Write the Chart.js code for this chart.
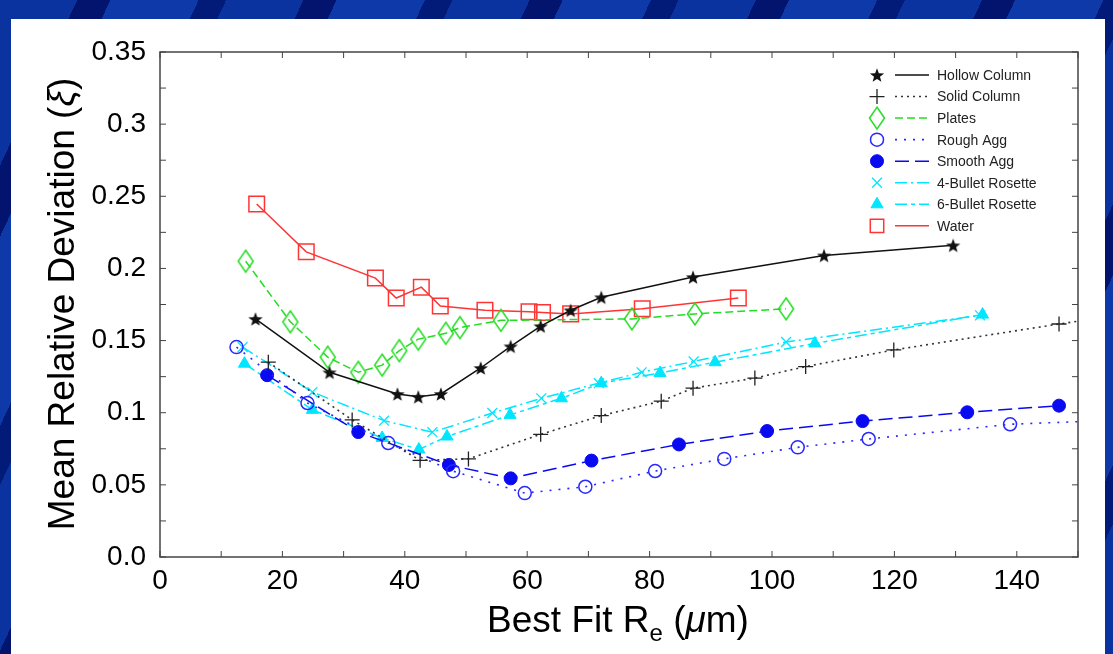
<!DOCTYPE html>
<html>
<head>
<meta charset="utf-8">
<script src="https://cdn.jsdelivr.net/npm/chart.js@4/dist/chart.umd.min.js"></script>
<style>
  html, body { margin:0; padding:0; }
  body {
    width:1113px; height:654px; overflow:hidden; position:relative;
    background: repeating-linear-gradient(115deg,
      #0b33a0 0px, #0b33a0 70px, #03146e 70px, #03146e 100px,
      #0d3aa8 100px, #0d3aa8 180px, #021a78 180px, #021a78 205px);
  }
  #panel { position:absolute; left:11px; top:19px; width:1094px; height:635px; background:#ffffff; }
  #c { position:absolute; left:0; top:0; }
</style>
</head>
<body>
<div id="panel"></div>
<canvas id="c" width="1113" height="654"></canvas>
<script>
// ---------- data ----------
const xTickValues = [0, 20, 40, 60, 80, 100, 120, 140];
const yTickValues = [0, 0.05, 0.1, 0.15, 0.2, 0.25, 0.3, 0.35];
const yTickLabels = ['0.0', '0.05', '0.1', '0.15', '0.2', '0.25', '0.3', '0.35'];

const seriesNames = ['Hollow Column', 'Solid Column', 'Plates', 'Rough Agg', 'Smooth Agg',
                     '4-Bullet Rosette', '6-Bullet Rosette', 'Water'];

const hollowX = [15.6, 27.7, 38.8, 42.2, 45.9, 52.4, 57.3, 62.2, 67.1, 72.1, 87.1, 108.5, 129.6];
const hollowY = [0.165, 0.128, 0.113, 0.111, 0.113, 0.131, 0.146, 0.160, 0.171, 0.180, 0.194, 0.209, 0.216];

const solidX = [17.7, 31.4, 42.5, 50.4, 62.2, 72.1, 81.9, 87.1, 97.2, 105.5, 119.9, 146.9, 160];
const solidY = [0.135, 0.095, 0.067, 0.068, 0.085, 0.098, 0.108, 0.117, 0.124, 0.132, 0.1435, 0.1615, 0.1695];

const platesX = [14.0, 21.3, 27.4, 32.4, 36.3, 39.1, 42.2, 46.7, 49.0, 55.7, 77.1, 87.4, 102.3];
const platesY = [0.205, 0.163, 0.1385, 0.128, 0.133, 0.143, 0.151, 0.155, 0.159, 0.164, 0.165, 0.1685, 0.172];

const roughX = [12.5, 24.1, 37.3, 47.9, 59.6, 69.5, 80.9, 92.2, 104.2, 115.8, 138.9, 165];
const roughY = [0.1455, 0.1067, 0.079, 0.0595, 0.0443, 0.0487, 0.0596, 0.068, 0.076, 0.0818, 0.092, 0.0962];

const smoothX = [17.5, 32.4, 47.2, 57.3, 70.5, 84.8, 99.2, 114.8, 131.9, 146.9];
const smoothY = [0.126, 0.0866, 0.0638, 0.0545, 0.0668, 0.078, 0.0873, 0.0942, 0.1003, 0.1049];

const bullet4X = [13.5, 24.9, 36.6, 44.5, 54.3, 62.3, 71.7, 78.7, 87.2, 102.3, 134.0];
const bullet4Y = [0.1455, 0.1143, 0.0945, 0.0865, 0.0998, 0.110, 0.1205, 0.128, 0.1355, 0.149, 0.1675];

const bullet6X = [13.8, 24.9, 36.3, 42.3, 46.9, 57.2, 65.6, 72.1, 81.7, 90.7, 107.0, 134.4];
const bullet6Y = [0.134, 0.102, 0.0825, 0.0745, 0.0835, 0.0985, 0.110, 0.1205, 0.1275, 0.135, 0.148, 0.168];

const waterX = [15.8, 23.9, 35.2, 38.6, 42.7, 45.8, 53.1, 60.3, 62.5, 67.1, 78.8, 94.5];
const waterY = [0.2446, 0.2115, 0.1933, 0.1795, 0.187, 0.174, 0.171, 0.170, 0.1695, 0.1685, 0.172, 0.1795];

// ---------- marker images ----------
function starImage(color) {
  const c = document.createElement('canvas'); c.width = 18; c.height = 18;
  const g = c.getContext('2d'); g.fillStyle = color; g.beginPath();
  for (let i = 0; i < 10; i++) {
    const r = i % 2 === 0 ? 7.5 : 3.1;
    const a = -Math.PI / 2 + i * Math.PI / 5;
    const px = 9 + r * Math.cos(a), py = 9.8 + r * Math.sin(a);
    if (i === 0) g.moveTo(px, py); else g.lineTo(px, py);
  }
  g.closePath(); g.fill(); return c;
}
function diamondImage(color) {
  const c = document.createElement('canvas'); c.width = 20; c.height = 26;
  const g = c.getContext('2d'); g.strokeStyle = color; g.lineWidth = 1.5; g.beginPath();
  g.moveTo(10, 2); g.lineTo(17.5, 13); g.lineTo(10, 24); g.lineTo(2.5, 13); g.closePath(); g.stroke();
  return c;
}

const pts = (xs, ys) => xs.map((x, i) => ({ x: x, y: ys[i] }));

const BLACK = '#111111', GREEN = '#22dd22', BLUE1 = '#2828ff', BLUE2 = '#0a0af0', CYAN = '#00e6ff', RED = '#ff3535';

const datasets = [
  { label: seriesNames[0], data: pts(hollowX, hollowY), borderColor: BLACK, borderWidth: 1.5, borderDash: [],
    pointStyle: starImage(BLACK), pointRadius: 8, pointBackgroundColor: BLACK, pointBorderColor: BLACK, pointBorderWidth: 1 },
  { label: seriesNames[1], data: pts(solidX, solidY), borderColor: '#333333', borderWidth: 1.6, borderDash: [2, 4],
    pointStyle: 'cross', pointRadius: 7.5, pointBackgroundColor: 'rgba(0,0,0,0)', pointBorderColor: '#222222', pointBorderWidth: 1.3 },
  { label: seriesNames[2], data: pts(platesX, platesY), borderColor: GREEN, borderWidth: 1.5, borderDash: [8, 4],
    pointStyle: diamondImage(GREEN), pointRadius: 9, pointBackgroundColor: 'rgba(0,0,0,0)', pointBorderColor: GREEN, pointBorderWidth: 1.5 },
  { label: seriesNames[3], data: pts(roughX, roughY), borderColor: BLUE1, borderWidth: 1.6, borderDash: [2, 7],
    pointStyle: 'circle', pointRadius: 6.5, pointBackgroundColor: 'rgba(0,0,0,0)', pointBorderColor: BLUE1, pointBorderWidth: 1.5 },
  { label: seriesNames[4], data: pts(smoothX, smoothY), borderColor: BLUE2, borderWidth: 1.5, borderDash: [14, 6],
    pointStyle: 'circle', pointRadius: 6.5, pointBackgroundColor: BLUE2, pointBorderColor: BLUE2, pointBorderWidth: 1 },
  { label: seriesNames[5], data: pts(bullet4X, bullet4Y), borderColor: CYAN, borderWidth: 1.5, borderDash: [12, 4, 2, 4],
    pointStyle: 'crossRot', pointRadius: 7, pointBackgroundColor: 'rgba(0,0,0,0)', pointBorderColor: CYAN, pointBorderWidth: 1.3 },
  { label: seriesNames[6], data: pts(bullet6X, bullet6Y), borderColor: CYAN, borderWidth: 1.5, borderDash: [12, 4, 4, 4],
    pointStyle: 'triangle', pointRadius: 7, pointBackgroundColor: CYAN, pointBorderColor: CYAN, pointBorderWidth: 1 },
  { label: seriesNames[7], data: pts(waterX, waterY), borderColor: RED, borderWidth: 1.5, borderDash: [],
    pointStyle: 'rect', pointRadius: 11, pointBackgroundColor: 'rgba(0,0,0,0)', pointBorderColor: RED, pointBorderWidth: 1.5 }
];
datasets.forEach(d => { d.showLine = true; d.fill = false; d.tension = 0; d.pointHoverRadius = d.pointRadius; });

const FONT = "'Liberation Sans', Arial, Helvetica, sans-serif";

// ---------- plugins ----------
const framePlugin = {
  id: 'frame',
  afterDatasetsDraw(chart) {
    const { ctx, chartArea: a, scales: { x, y } } = chart;
    ctx.save();
    ctx.strokeStyle = '#444444'; ctx.lineWidth = 1.5; ctx.setLineDash([]);
    ctx.strokeRect(a.left, a.top, a.right - a.left, a.bottom - a.top);
    const L = 6;
    ctx.lineWidth = 1;
    ctx.beginPath();
    for (let v = 0; v <= 150; v += 10) {
      const px = x.getPixelForValue(v);
      ctx.moveTo(px, a.bottom); ctx.lineTo(px, a.bottom - L);
      ctx.moveTo(px, a.top); ctx.lineTo(px, a.top + L);
    }
    for (let k = 0; k <= 14; k++) {
      const py = y.getPixelForValue(k * 0.025);
      ctx.moveTo(a.left, py); ctx.lineTo(a.left + L, py);
      ctx.moveTo(a.right, py); ctx.lineTo(a.right - L, py);
    }
    ctx.stroke();
    ctx.restore();
  }
};

const titlePlugin = {
  id: 'titles',
  afterDraw(chart) {
    const ctx = chart.ctx;
    ctx.save();
    ctx.fillStyle = '#000000';
    ctx.textBaseline = 'alphabetic';
    // Y title
    const yParts = [['Mean Relative Deviation (', 'normal'], ['\u03BE', 'italic'], [')', 'normal']];
    const ySize = 37;
    let total = 0;
    yParts.forEach(p => { ctx.font = p[1] + ' ' + ySize + 'px ' + FONT; p.w = ctx.measureText(p[0]).width; total += p.w; });
    ctx.translate(74, 304);
    ctx.rotate(-Math.PI / 2);
    let cx = -total / 2;
    ctx.textAlign = 'left';
    yParts.forEach(p => { ctx.font = p[1] + ' ' + ySize + 'px ' + FONT; ctx.fillText(p[0], cx, 0); cx += p.w; });
    ctx.setTransform(1, 0, 0, 1, 0, 0);
    // X title
    const xSize = 37;
    const xParts = [['Best Fit R', 'normal', xSize, 0], ['e', 'normal', 24, 9], [' (', 'normal', xSize, 0],
                    ['\u03BC', 'italic', xSize, 0], ['m)', 'normal', xSize, 0]];
    total = 0;
    xParts.forEach(p => { ctx.font = p[1] + ' ' + p[2] + 'px ' + FONT; p.w = ctx.measureText(p[0]).width; total += p.w; });
    cx = 618 - total / 2;
    xParts.forEach(p => { ctx.font = p[1] + ' ' + p[2] + 'px ' + FONT; ctx.fillText(p[0], cx, 632 + p[3]); cx += p.w; });
    ctx.restore();
  }
};

const legendPlugin = {
  id: 'customLegend',
  afterDraw(chart) {
    const ctx = chart.ctx;
    ctx.save();
    chart.data.datasets.forEach((d, i) => {
      const yy = 75 + i * 21.55;
      ctx.fillStyle = d.pointBackgroundColor;
      ctx.strokeStyle = d.pointBorderColor;
      ctx.lineWidth = d.pointBorderWidth;
      ctx.setLineDash([]);
      const r = d.pointStyle === 'rect' ? 9.5 : d.pointRadius;
      Chart.helpers.drawPoint(ctx, { pointStyle: d.pointStyle, rotation: 0, radius: r, borderWidth: d.pointBorderWidth }, 877, yy);
      ctx.strokeStyle = d.borderColor;
      ctx.lineWidth = d.borderWidth;
      ctx.setLineDash(d.borderDash);
      ctx.beginPath(); ctx.moveTo(895, yy); ctx.lineTo(929, yy); ctx.stroke();
      ctx.setLineDash([]);
      ctx.fillStyle = '#222222';
      ctx.font = '14px ' + FONT;
      ctx.textAlign = 'left'; ctx.textBaseline = 'middle';
      ctx.fillText(d.label, 937, yy + 1);
    });
    ctx.restore();
  }
};

new Chart(document.getElementById('c'), {
  type: 'scatter',
  data: { datasets: datasets },
  options: {
    responsive: false,
    devicePixelRatio: 1,
    animation: false,
    layout: { padding: { left: 0, right: 35, top: 52, bottom: 0 } },
    plugins: { legend: { display: false }, tooltip: { enabled: false } },
    scales: {
      x: {
        type: 'linear', min: 0, max: 150,
        afterBuildTicks: s => { s.ticks = xTickValues.map(v => ({ value: v })); },
        afterFit: s => { s.height = 97; },
        grid: { display: false, drawTicks: false },
        border: { display: false },
        ticks: { color: '#000', font: { family: FONT, size: 28 }, padding: 7, maxRotation: 0, autoSkip: false }
      },
      y: {
        type: 'linear', min: 0, max: 0.35,
        afterBuildTicks: s => { s.ticks = yTickValues.map(v => ({ value: v })); },
        afterFit: s => { s.width = 160; },
        grid: { display: false, drawTicks: false },
        border: { display: false },
        ticks: { color: '#000', font: { family: FONT, size: 28 }, padding: 14, autoSkip: false,
                 callback: (v, i) => yTickLabels[i] }
      }
    }
  },
  plugins: [framePlugin, titlePlugin, legendPlugin]
});
</script>
</body>
</html>
